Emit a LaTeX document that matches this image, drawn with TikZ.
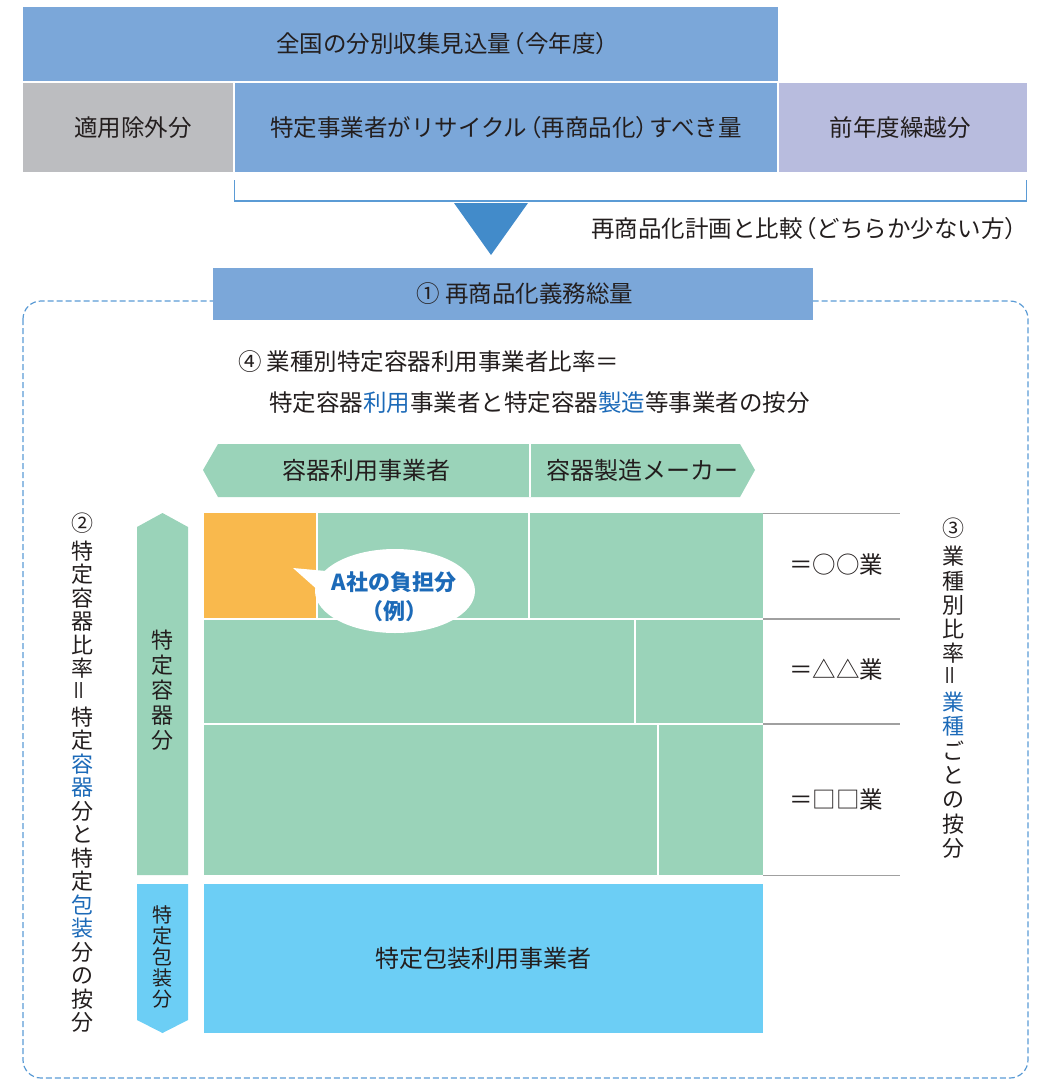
\documentclass[tikz,border=0pt]{standalone}
\usepackage{fontspec}
\setmainfont{Noto Sans CJK JP}
\usepackage{graphicx}
\definecolor{topblue}{RGB}{123,167,217}
\definecolor{grayc}{RGB}{188,189,192}
\definecolor{lav}{RGB}{184,188,222}
\definecolor{triblue}{RGB}{66,139,202}
\definecolor{lineblue}{RGB}{91,155,213}
\definecolor{green}{RGB}{154,211,185}
\definecolor{orange}{RGB}{249,185,77}
\definecolor{lblue}{RGB}{108,206,245}
\definecolor{txt}{RGB}{35,30,30}
\definecolor{hl}{RGB}{28,106,184}
\definecolor{grayline}{RGB}{160,160,160}
\newcommand{\hb}[1]{{\color{hl}#1}}
\newcommand{\veq}{\rotatebox{90}{＝}}
\newcommand{\lp}{\kern-0.4em（}
\newcommand{\rp}{）\kern-0.4em}
\begin{document}
\begin{tikzpicture}[x=1pt,y=-1pt,
  cell/.style={inner sep=0pt,outer sep=0pt,draw=none,text=txt,font=\fontsize{23.5}{26}\selectfont},
  lbl/.style={inner sep=0pt,text=txt,font=\fontsize{23.5}{26}\selectfont},
  vtxt/.style={inner sep=0pt,text=txt,align=center,font=\fontsize{22}{24}\selectfont}]
\useasboundingbox (0,0) rectangle (1045,1079);
% top rows
\node[cell,fill=topblue,minimum width=755pt,minimum height=74pt] (all) at (400.5,44) {};
\node[lbl] (alltxt) at (443,44) {全国の分別収集見込量\lp 今年度\rp};
\node[cell,fill=grayc,minimum width=210pt,minimum height=89pt] (excl) at (128,127.5) {};
\node[lbl] (excltxt) at (133,127.5) {適用除外分};
\node[cell,fill=topblue,minimum width=542pt,minimum height=89pt] (recy) at (506,127.5) {特定事業者がリサイクル\lp 再商品化\rp すべき量};
\node[cell,fill=lav,minimum width=248pt,minimum height=89pt] (carry) at (903,127.5) {};
\node[lbl] (carrytxt) at (900,127.5) {前年度繰越分};
% bracket
\coordinate (b1) at (234.5,180);
\coordinate (b2) at (1026.5,180);
\draw[lineblue,line width=1.3pt] (b1) -- ++(0,21) -| (b2);
\fill[triblue] (454,203) -- (528,203) -- (491,255) -- cycle;
\node[lbl,anchor=east] (cmp) at (1019,229) {再商品化計画と比較\lp どちらか少ない方\rp};
% dashed frame
\draw[lineblue,line width=1.2pt,dash pattern=on 6pt off 3pt,rounded corners=18pt] (23,301) rectangle (1028,1078);
\node[cell,fill=topblue,minimum width=600pt,minimum height=52pt] (oblig) at (513,294) {};
\node[lbl] (obligtxt) at (525,294) {① 再商品化義務総量};
% ratio text
\node[lbl,anchor=west] (r4a) at (238,362) {④ 業種別特定容器利用事業者比率＝};
\node[lbl,anchor=west] (r4b) at (269,403) {特定容器\hb{利用}事業者と特定容器\hb{製造}等事業者の按分};
% header arrow
\fill[green] (203,470) -- (218,444) -- (740,444) -- (755,470) -- (740,497) -- (218,497) -- cycle;
\draw[white,line width=1.5pt] (530,444) -- (530,497);
\node[lbl,font=\fontsize{24}{26}\selectfont] (huser) at (366,470) {容器利用事業者};
\node[lbl,font=\fontsize{24}{26}\selectfont] (hmaker) at (642,470) {容器製造メーカー};
% grid
\fill[orange] (204,513) rectangle (316,618);
\fill[green] (318,513) rectangle (528,618);
\fill[green] (530,513) rectangle (763,618);
\fill[green] (204,620) rectangle (634,723);
\fill[green] (636,620) rectangle (763,723);
\fill[green] (204,725) rectangle (657,875);
\fill[green] (659,725) rectangle (763,875);
\node[cell,fill=lblue,minimum width=559pt,minimum height=149pt,font=\fontsize{24}{26}\selectfont] (pack) at (483.5,958.5) {特定包装利用事業者};
% gray lines
\foreach \yy in {513.5,619,724,875.5} \draw[grayline,line width=1.2pt] (763,\yy) -- (900,\yy);
\node[lbl] (ind1) at (836,565) {＝○○業};
\node[lbl] (ind2) at (836,670) {＝△△業};
\node[lbl] (ind3) at (836,800) {＝□□業};
% callout
\fill[white] (395,591) ellipse [x radius=80, y radius=42];
\fill[white] (293,568) -- (326,571) -- (320,592) -- cycle;
\node[inner sep=0pt,text=hl,align=center,font=\bfseries\fontsize{22}{29}\selectfont] (aco) at (394,597) {A社の負担分\\\lp 例\rp};
% left arrows
\fill[green] (137,527) -- (162.5,513) -- (188,527) -- (188,875) -- (137,875) -- cycle;
\fill[lblue] (137,884) -- (188,884) -- (188,1020) -- (162.5,1033) -- (137,1020) -- cycle;
\node[vtxt,font=\fontsize{22}{25}\selectfont] (vc) at (162,690) {特\\定\\容\\器\\分};
\node[vtxt,font=\fontsize{20}{21}\selectfont] (vp) at (162,957) {特\\定\\包\\装\\分};
% vertical annotations
\node[vtxt,font=\fontsize{22}{23.5}\selectfont] (n2) at (82,773) {②\\[4pt]特\\定\\容\\器\\比\\率\\\veq\\特\\定\\\hb{容}\\\hb{器}\\分\\と\\特\\定\\\hb{包}\\\hb{装}\\分\\の\\按\\分};
\node[vtxt,font=\fontsize{22}{24.3}\selectfont] (n3) at (953,688) {③\\[4pt]業\\種\\別\\比\\率\\\veq\\\hb{業}\\\hb{種}\\ご\\と\\の\\按\\分};
\end{tikzpicture}
\end{document}
